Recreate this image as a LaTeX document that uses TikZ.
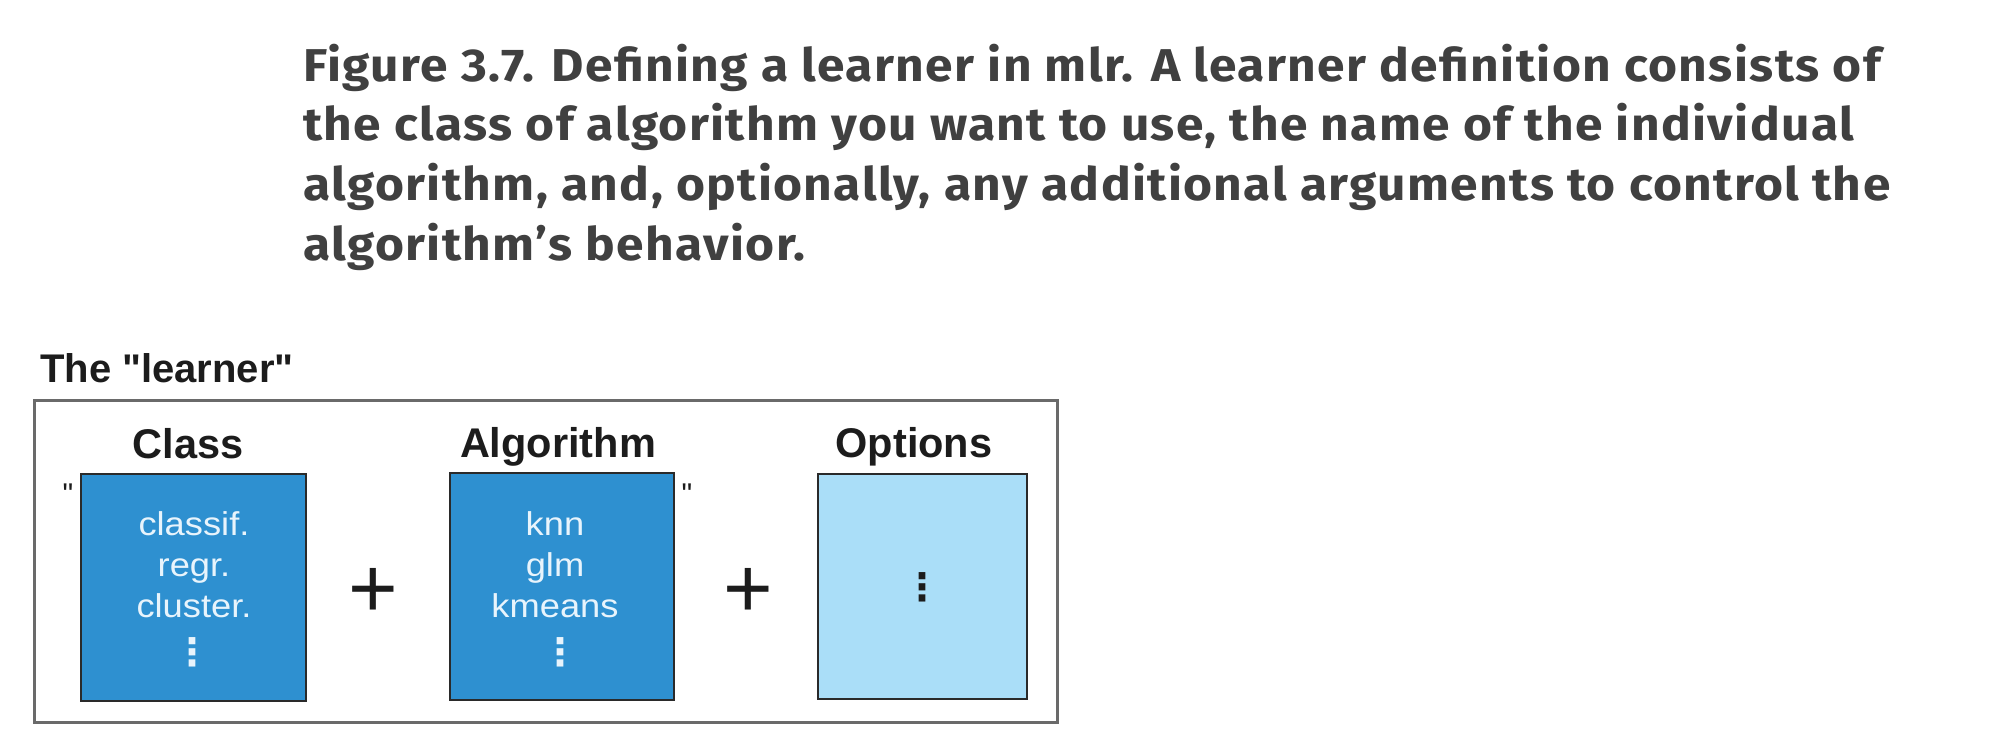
\documentclass[tikz,border=0pt]{standalone}
\usepackage{fontspec}
\setmainfont[Ligatures=TeXOff]{Liberation Sans}
\newfontfamily\capfont[FakeStretch=1.08,LetterSpace=3]{Fira Sans}
\newfontfamily\boxfont[FakeStretch=1.1]{Liberation Sans}
\newfontfamily\symfont{DejaVu Sans}
\definecolor{capgray}{HTML}{404040}
\definecolor{lblblack}{HTML}{1C1C1C}
\definecolor{darkblue}{HTML}{2E90D0}
\definecolor{lightblue}{HTML}{AADEF8}
\definecolor{boxtext}{HTML}{E8F4FC}
\definecolor{framegray}{HTML}{6A6A6A}
\definecolor{boxborder}{HTML}{2A2A2A}
\tikzset{
  captxt/.style={anchor=base west, inner sep=0pt, text=capgray,
    font=\capfont\bfseries\fontsize{46}{46}\selectfont},
  titletxt/.style={anchor=base west, inner sep=0pt, text=lblblack,
    font=\bfseries\fontsize{40}{40}\selectfont},
  lbl/.style={anchor=base, inner sep=0pt, text=lblblack,
    font=\bfseries\fontsize{41.5}{41.5}\selectfont},
  frame/.style={draw=framegray, line width=3pt, fill=white, inner sep=0pt},
  darkbox/.style={draw=boxborder, line width=2.5pt, fill=darkblue, inner sep=0pt},
  lightbox/.style={draw=boxborder, line width=2.5pt, fill=lightblue, inner sep=0pt},
  boxtxt/.style={anchor=base, inner sep=0pt, text=boxtext,
    font=\boxfont\fontsize{33}{33}\selectfont},
  dotstxt/.style={anchor=center, inner sep=0pt,
    font=\symfont\bfseries\fontsize{38}{38}\selectfont},
  plustxt/.style={anchor=base, inner sep=0pt, text=lblblack,
    font=\fontsize{85}{85}\selectfont},
  quotetxt/.style={anchor=base, inner sep=0pt, text=lblblack,
    font=\fontsize{30}{30}\selectfont},
}
\begin{document}
\begin{tikzpicture}[x=1pt,y=-1pt]
\useasboundingbox[fill=white] (0,0) rectangle (2010,754);
% caption
\node[captxt] (cap1) at (303,82) {Figure 3.7. Defining a learner in mlr. A learner definition consists of};
\node[captxt] (cap2) at (303,141) {the class of algorithm you want to use, the name of the individual};
\node[captxt] (cap3) at (303,200.5) {algorithm, and, optionally, any additional arguments to control the};
\node[captxt] (cap4) at (303,260) {algorithm’s behavior.};
% title
\node[titletxt] (title) at (40,382) {The "learner"};
% frame
\node[frame, minimum width=1023, minimum height=322] (frame) at (545.5,561) {};
% labels
\node[lbl] (classlbl) at (188,458) {Class};
\node[lbl] (algolbl) at (558,457) {Algorithm};
\node[lbl] (optlbl) at (914,457) {Options};
% boxes
\node[darkbox, minimum width=225, minimum height=227] (classbox) at (193.5,587.5) {};
\node[darkbox, minimum width=224, minimum height=227] (algobox) at (562,586.5) {};
\node[lightbox, minimum width=209, minimum height=225] (optbox) at (922.5,586.5) {};
% class texts
\node[boxtxt] (c1) at (194,535) {classif.};
\node[boxtxt] (c2) at (194,576) {regr.};
\node[boxtxt] (c3) at (194,617) {cluster.};
\node[dotstxt, text=boxtext] (c4) at (192,652) {⋮};
% algorithm texts
\node[boxtxt] (a1) at (555,535) {knn};
\node[boxtxt] (a2) at (555,576) {glm};
\node[boxtxt] (a3) at (555,617) {kmeans};
\node[dotstxt, text=boxtext] (a4) at (560,652) {⋮};
% options text
\node[dotstxt, text=lblblack] (o1) at (922,587) {⋮};
% plus signs
\node[plustxt] (plus1) at (373,617) {+};
\node[plustxt] (plus2) at (748,617) {+};
% quotes
\node[quotetxt] (q1) at (68,504) {"};
\node[quotetxt] (q2) at (687,504) {"};
\end{tikzpicture}
\end{document}
